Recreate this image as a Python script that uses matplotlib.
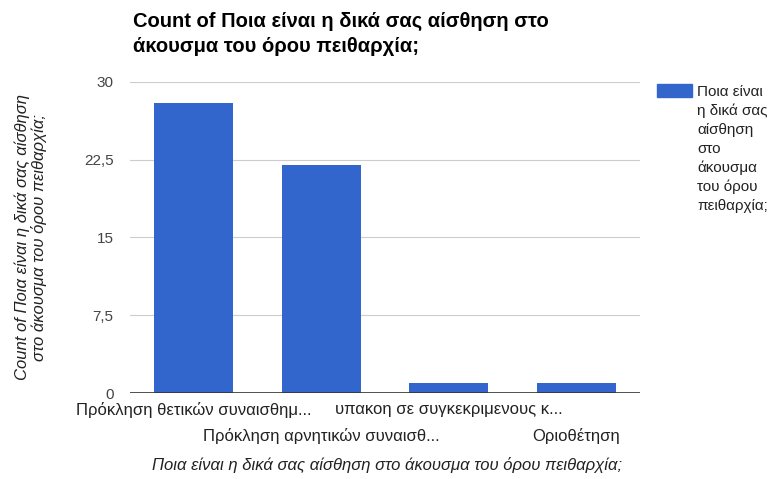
import matplotlib.pyplot as plt
import numpy as np

plt.rcParams['font.family'] = ['Liberation Sans', 'DejaVu Sans']

categories = ["Πρόκληση θετικών συναισθημ...",
              "Πρόκληση αρνητικών συναισθ...",
              "υπακοη σε συγκεκριμενους κ...",
              "Οριοθέτηση"]
counts = [28, 22, 1, 1]
yticks = [0, 7.5, 15, 22.5, 30]
ytick_labels = ["0", "7,5", "15", "22,5", "30"]
series_name = "Ποια είναι η δικά σας αίσθηση στο άκουσμα του όρου πειθαρχία;"

fig = plt.figure(figsize=(7.75, 4.79), dpi=100)
ax = fig.add_axes([0.168, 0.1795, 0.658, 0.6495])

x = np.arange(len(categories))
ax.bar(x, counts, width=0.62, color="#3366cc", zorder=3)

ax.set_xlim(-0.5, len(categories) - 0.5)
ax.set_ylim(0, 30)
ax.set_yticks(yticks)
ax.set_yticklabels(ytick_labels, color="#444444", fontsize=11)
ax.tick_params(axis='y', length=0, pad=12)
ax.grid(axis='y', color="#cccccc", linewidth=0.8, zorder=0)
for s in ax.spines.values():
    s.set_visible(False)
ax.axhline(0, color="#333333", linewidth=1.2, zorder=4)

# staggered category labels
ax.set_xticks([])
for i, lab in enumerate(categories):
    off = -9 if i % 2 == 0 else -35
    ax.annotate(lab, (i, 0), xycoords='data', xytext=(0, off),
                textcoords='offset pixels', ha='center', va='top',
                fontsize=12, color="#222222")

fig.text(0.5, 0.012, series_name, ha='center', va='bottom',
         fontsize=12, style='italic', color="#222222")
fig.text(0.04, 0.505,
         "Count of Ποια είναι η δικά σας αίσθηση\nστο άκουσμα του όρου πειθαρχία;",
         rotation=90, ha='center', va='center', fontsize=12,
         style='italic', color="#222222", linespacing=1.05)

fig.text(0.172, 0.975, "Count of Ποια είναι η δικά σας αίσθηση στο\nάκουσμα του όρου πειθαρχία;",
         ha='left', va='top', fontsize=14.5, fontweight='bold', color="#000000",
         linespacing=1.4)

# legend
fig.patches.append(plt.Rectangle((657 / 775, 1 - 97 / 479), 35 / 775, 13 / 479,
                                 transform=fig.transFigure, color="#3366cc"))
fig.text(697 / 775, 1 - 85 / 479,
         "Ποια είναι\nη δικά σας\nαίσθηση\nστο\nάκουσμα\nτου όρου\nπειθαρχία;",
         ha='left', va='top', fontsize=11, color="#222222", linespacing=1.42)

fig.savefig("out.png", dpi=100)
